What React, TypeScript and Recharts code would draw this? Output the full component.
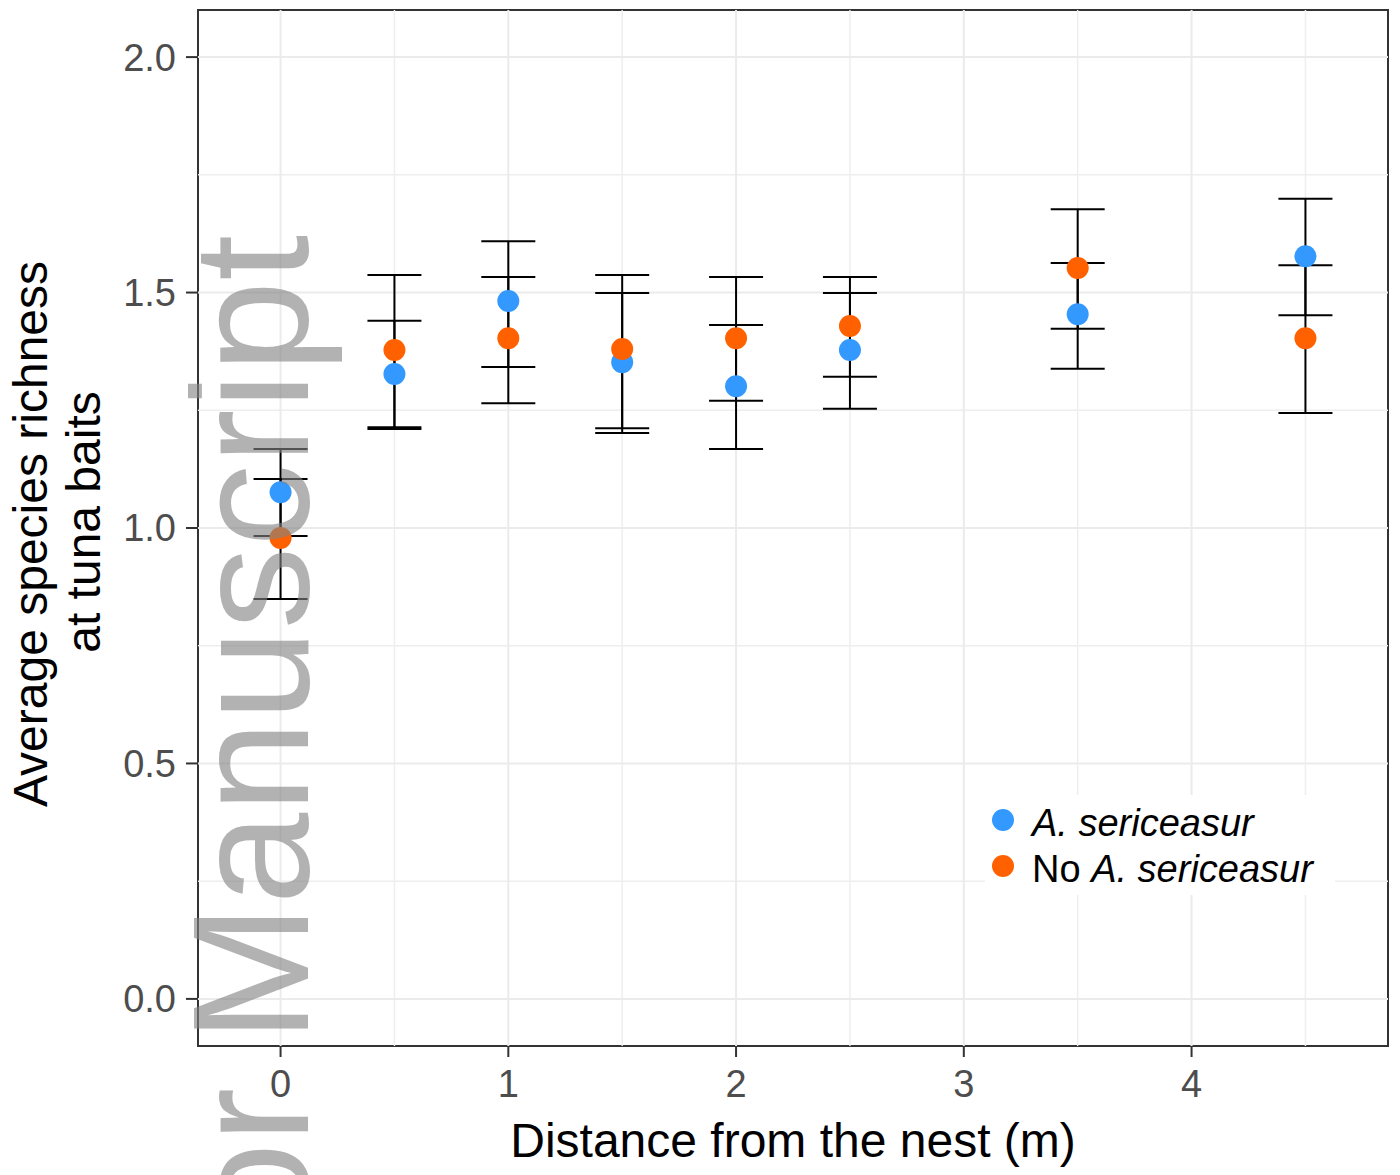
import React from "react";
import {
  ScatterChart,
  Scatter,
  XAxis,
  YAxis,
  ErrorBar,
  ReferenceLine,
  ReferenceArea,
  Legend,
  Label,
} from "recharts";

const FONT = "'Liberation Sans', Arial, Helvetica, sans-serif";
const BLUE = "#3399FF";
const ORANGE = "#FF6100";

// distance from the nest (m)
const distances = [0, 0.5, 1, 1.5, 2, 2.5, 3.5, 4.5];

// with A. sericeasur
const withMean = [1.076, 1.327, 1.482, 1.352, 1.301, 1.378, 1.454, 1.577];
const withLow = [0.983, 1.214, 1.342, 1.202, 1.168, 1.253, 1.338, 1.452];
const withHigh = [1.168, 1.44, 1.609, 1.499, 1.431, 1.499, 1.563, 1.699];

// no A. sericeasur
const noMean = [0.979, 1.378, 1.403, 1.38, 1.403, 1.429, 1.552, 1.403];
const noLow = [0.849, 1.21, 1.265, 1.212, 1.27, 1.321, 1.423, 1.244];
const noHigh = [1.104, 1.537, 1.533, 1.537, 1.533, 1.533, 1.677, 1.558];

const xTicks = [0, 1, 2, 3, 4];
const yTicks = [0, 0.5, 1, 1.5, 2];
const xMinorGrid = [0.5, 1.5, 2.5, 3.5, 4.5];
const yMinorGrid = [0.25, 0.75, 1.25, 1.75];
const X_DOMAIN: [number, number] = [-0.3625, 4.8625];
const Y_DOMAIN: [number, number] = [-0.1, 2.1];

const build = (mean: number[], low: number[], high: number[]) =>
  distances.map((x, i) => ({
    x,
    y: mean[i],
    err: [mean[i] - low[i], high[i] - mean[i]],
  }));

const withData = build(withMean, withLow, withHigh);
const noData = build(noMean, noLow, noHigh);

const dot = (color: string) => (props: any) =>
  <circle cx={props.cx} cy={props.cy} r={11} fill={color} />;

const noShape = () => <g />;

const XTitle = (props: any) => {
  const { x, y, width } = props.viewBox;
  return (
    <text
      x={x + width / 2}
      y={y + 111}
      textAnchor="middle"
      fontSize={48}
      fontFamily={FONT}
      fill="#000"
    >
      Distance from the nest (m)
    </text>
  );
};

const YTitle = (props: any) => {
  const { y, height } = props.viewBox;
  const cy = y + height / 2;
  return (
    <g fontSize={48} fontFamily={FONT} fill="#000">
      <text x={47} y={cy + 6} textAnchor="middle" transform={`rotate(-90 47 ${cy + 6})`}>
        Average species richness
      </text>
      <text x={100} y={cy - 6} textAnchor="middle" transform={`rotate(-90 100 ${cy - 6})`}>
        at tuna baits
      </text>
    </g>
  );
};

const LegendBox = () => {
  const row = (color: string, label: React.ReactNode) => (
    <div style={{ display: "flex", alignItems: "center", height: 46 }}>
      <div
        style={{
          width: 22,
          height: 22,
          borderRadius: 11,
          background: color,
          marginLeft: 7,
          marginRight: 18,
          flexShrink: 0,
        }}
      />
      <span style={{ paddingTop: 6, whiteSpace: "nowrap" }}>{label}</span>
    </div>
  );
  return (
    <div
      style={{
        background: "#fff",
        width: 350,
        height: 100,
        paddingTop: 2,
        boxSizing: "border-box",
        fontFamily: FONT,
        fontSize: 38,
        color: "#000",
        lineHeight: 1,
      }}
    >
      {row(BLUE, <i>A. sericeasur</i>)}
      {row(
        ORANGE,
        <>
          No <i>A. sericeasur</i>
        </>
      )}
    </div>
  );
};

export default function App() {
  const tickStyle = { fill: "#4D4D4D", fontSize: 38, fontFamily: FONT };
  return (
    <div style={{ position: "absolute", left: 0, top: 0, width: 1400, height: 1175, background: "#fff" }}>
      <ScatterChart
        width={1400}
        height={1175}
        margin={{ top: 10, right: 12, bottom: 0, left: 0 }}
      >
        <XAxis
          type="number"
          dataKey="x"
          domain={X_DOMAIN}
          allowDataOverflow
          ticks={xTicks}
          tick={tickStyle}
          tickSize={11}
          tickMargin={13}
          tickLine={{ stroke: "#333", strokeWidth: 2 }}
          axisLine={false}
          height={129}
        >
          <Label content={XTitle} />
        </XAxis>
        <YAxis
          type="number"
          dataKey="y"
          domain={Y_DOMAIN}
          allowDataOverflow
          ticks={yTicks}
          tickFormatter={(v: number) => v.toFixed(1)}
          tick={tickStyle}
          tickSize={12}
          tickMargin={10}
          tickLine={{ stroke: "#333", strokeWidth: 2 }}
          axisLine={false}
          width={198}
        >
          <Label content={YTitle} />
        </YAxis>

        {yMinorGrid.map((v) => (
          <ReferenceLine key={`ym${v}`} y={v} stroke="#EEEEEE" strokeWidth={1.5} />
        ))}
        {xMinorGrid.map((v) => (
          <ReferenceLine key={`xm${v}`} x={v} stroke="#EEEEEE" strokeWidth={1.5} />
        ))}
        {yTicks.map((v) => (
          <ReferenceLine key={`y${v}`} y={v} stroke="#EBEBEB" strokeWidth={2} />
        ))}
        {xTicks.map((v) => (
          <ReferenceLine key={`x${v}`} x={v} stroke="#EBEBEB" strokeWidth={2} />
        ))}

        <Legend
          layout="vertical"
          align="center"
          verticalAlign="middle"
          content={<LegendBox />}
          wrapperStyle={{ left: 985, top: 795, width: 350 }}
        />

        <Scatter name="A. sericeasur" data={withData} shape={dot(BLUE)} isAnimationActive={false} />
        <Scatter name="No A. sericeasur" data={noData} shape={dot(ORANGE)} isAnimationActive={false} />
        <Scatter data={withData} shape={noShape} legendType="none" isAnimationActive={false}>
          <ErrorBar dataKey="err" direction="y" width={27} stroke="#000" strokeWidth={2} isAnimationActive={false} />
        </Scatter>
        <Scatter data={noData} shape={noShape} legendType="none" isAnimationActive={false}>
          <ErrorBar dataKey="err" direction="y" width={27} stroke="#000" strokeWidth={2} isAnimationActive={false} />
        </Scatter>

        <ReferenceArea
          x1={X_DOMAIN[0]}
          x2={X_DOMAIN[1]}
          y1={Y_DOMAIN[0]}
          y2={Y_DOMAIN[1]}
          fill="none"
          stroke="#333"
          strokeWidth={2}
        />
      </ScatterChart>

      <svg
        width={1400}
        height={1175}
        style={{ position: "absolute", left: 0, top: 0, pointerEvents: "none" }}
      >
        <text
          x={308}
          y={235}
          textAnchor="end"
          transform="rotate(-90 308 235)"
          fontSize={165}
          fontFamily={FONT}
          fill="rgb(131,131,131)"
          fillOpacity={0.62}
        >
          Author Manuscript
        </text>
      </svg>
    </div>
  );
}
